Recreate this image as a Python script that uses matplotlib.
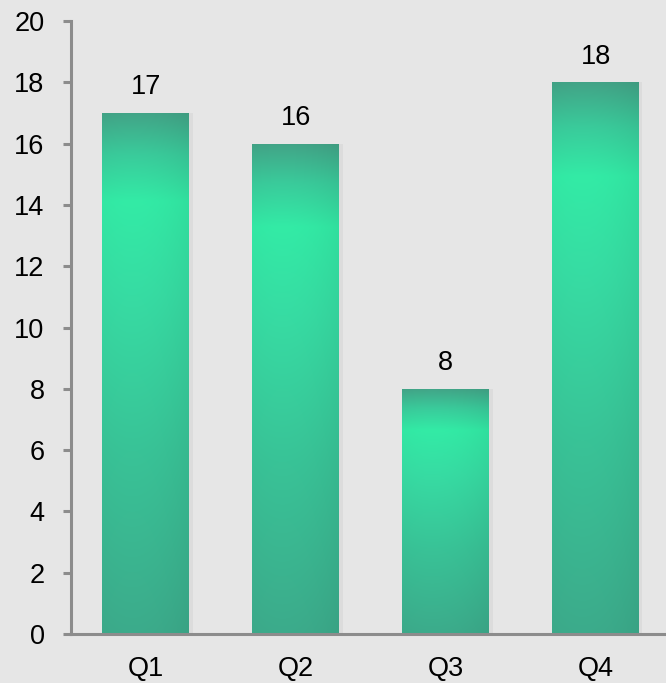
import matplotlib
matplotlib.use("Agg")
import matplotlib.pyplot as plt
import numpy as np
from matplotlib.colors import LinearSegmentedColormap

categories = ["Q1", "Q2", "Q3", "Q4"]
values = [17, 16, 8, 18]
y_ticks = [0, 2, 4, 6, 8, 10, 12, 14, 16, 18, 20]

plt.rcParams['font.family'] = ['Liberation Sans', 'DejaVu Sans']

bg = "#e6e6e6"
axis_grey = "#8c8c8c"

# vertical gradient of the bars, from bottom (0) to top (1)
bar_cmap = LinearSegmentedColormap.from_list("bar", [
    (0.00, "#3cab8b"),
    (0.35, "#39c397"),
    (0.65, "#37dca3"),
    (0.83, "#33eba6"),
    (0.92, "#3acb9b"),
    (1.00, "#42a487"),
])

fig = plt.figure(figsize=(6.66, 6.83), dpi=100, facecolor=bg)
ax = fig.add_axes([0.1066, 0.0717, 0.8934, 0.8975])
ax.set_facecolor(bg)

x = np.arange(len(categories))
width = 0.58
bars = ax.bar(x, values, width=width, color="#3cab8b", zorder=2)

# soft shadow around each bar
for b in bars:
    ax.bar(b.get_x() + b.get_width() / 2 + 0.01, b.get_height(), width=width + 0.025,
           color="#000000", alpha=0.045, zorder=1)

# gradient fill clipped to each bar, slightly brighter left of centre
vert = np.linspace(0, 1, 256)
horiz = np.linspace(0, 1, 64)
rgb = bar_cmap(vert)[:, None, :3]
shade = 1 - 0.05 * ((horiz - 0.35) / 0.65) ** 2
img = np.clip(rgb * shade[None, :, None], 0, 1)
for b in bars:
    x0, y0 = b.get_x(), b.get_y()
    w, h = b.get_width(), b.get_height()
    im = ax.imshow(img, origin="lower", extent=[x0, x0 + w, y0, y0 + h],
                   aspect="auto", interpolation="bilinear", zorder=3)
    im.set_clip_path(b)

ax.bar_label(bars, labels=[str(v) for v in values], padding=9, fontsize=19.5, zorder=4)

ax.set_xlim(-0.5, 3.47)
ax.set_ylim(0, 20)
ax.set_xticks(x)
ax.set_xticklabels(categories)
ax.set_yticks(y_ticks)

for side in ["top", "right"]:
    ax.spines[side].set_visible(False)
for side in ["left", "bottom"]:
    ax.spines[side].set_color(axis_grey)
    ax.spines[side].set_linewidth(2.2)
    ax.spines[side].set_zorder(5)

ax.tick_params(axis="y", length=6, width=2.2, color=axis_grey, pad=13, labelsize=19.5)
ax.tick_params(axis="x", length=0, pad=16, labelsize=19.5)

fig.savefig("out.png", dpi=100, facecolor=bg)
